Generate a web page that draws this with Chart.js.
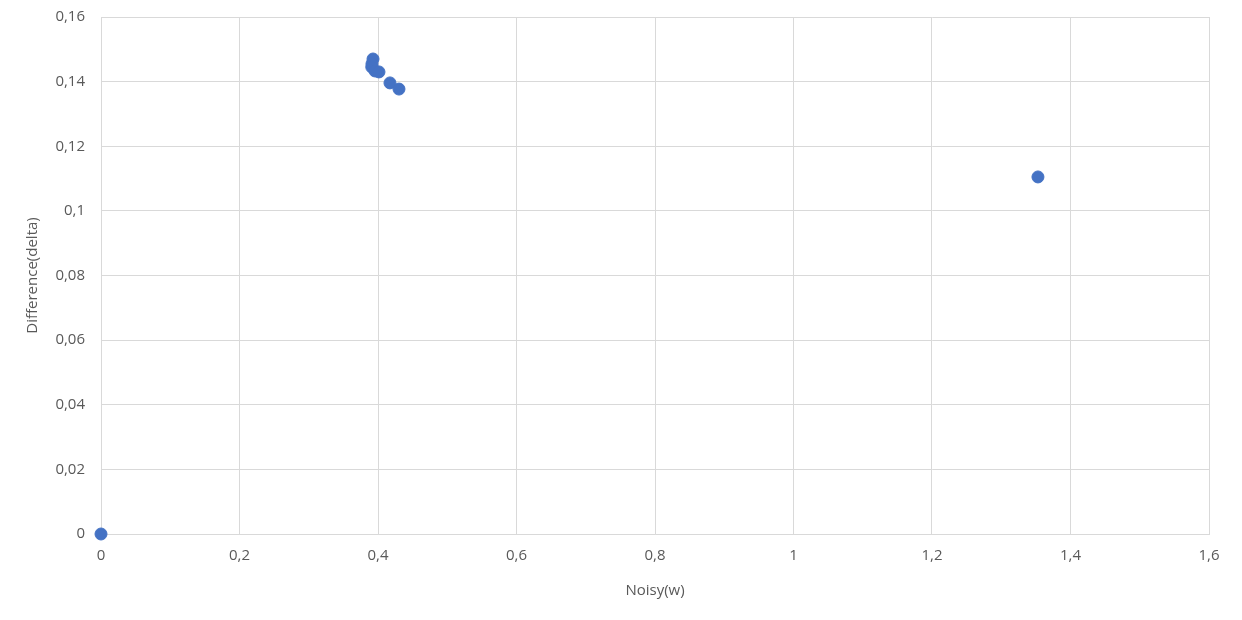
<!DOCTYPE html>
<html><head><meta charset="utf-8">
<script src="https://cdn.jsdelivr.net/npm/chart.js@4"></script>
<style>html,body{margin:0;padding:0;background:#fff}#w{width:1242px;height:620px}</style>
</head><body><div id="w"><canvas id="c"></canvas></div>
<script>
const xValues = [0, 0.3928, 0.3913, 0.391, 0.3957, 0.4014, 0.4173, 0.4303, 1.353];
const yValues = [0, 0.1470, 0.1455, 0.1445, 0.1433, 0.1430, 0.1396, 0.1377, 0.1105];
const xTitle = 'Noisy(w)';
const yTitle = 'Difference(delta)';
const fmt = v => Number(v.toFixed(4)).toString().replace('.', ',');
const pts = xValues.map((x, i) => ({x, y: yValues[i]}));
const font = {family: "'Open Sans', 'Liberation Sans', sans-serif", size: 15};
new Chart(document.getElementById('c'), {
  type: 'scatter',
  data: {datasets: [{data: pts, backgroundColor: '#4472C4', borderColor: '#4472C4', pointRadius: 6, pointHoverRadius: 6, clip: false}]},
  options: {
    responsive: true, maintainAspectRatio: false, animation: false,
    layout: {padding: {top: 17, right: 33, left: 0, bottom: 0}},
    plugins: {legend: {display: false}, tooltip: {enabled: false}},
    scales: {
      x: {type: 'linear', min: 0, max: 1.6,
        ticks: {stepSize: 0.2, callback: fmt, color: '#595959', font, padding: 13},
        grid: {color: '#D9D9D9', lineWidth: 1, drawTicks: false},
        border: {color: '#D9D9D9'},
        title: {display: true, text: xTitle, color: '#595959', font, padding: {top: 8, bottom: 20}},
        afterFit: s => { s.height = 86; s.paddingLeft = 0; s.paddingRight = 0; }
      },
      y: {type: 'linear', min: 0, max: 0.16,
        ticks: {stepSize: 0.02, callback: fmt, color: '#595959', font, padding: 16},
        grid: {color: '#D9D9D9', lineWidth: 1, drawTicks: false},
        border: {color: '#D9D9D9'},
        title: {display: true, text: yTitle, color: '#595959', font, padding: {top: 24, bottom: 4}},
        afterFit: s => { s.width = 101; s.paddingTop = 0; s.paddingBottom = 0; }
      }
    }
  }
});
</script></body></html>
